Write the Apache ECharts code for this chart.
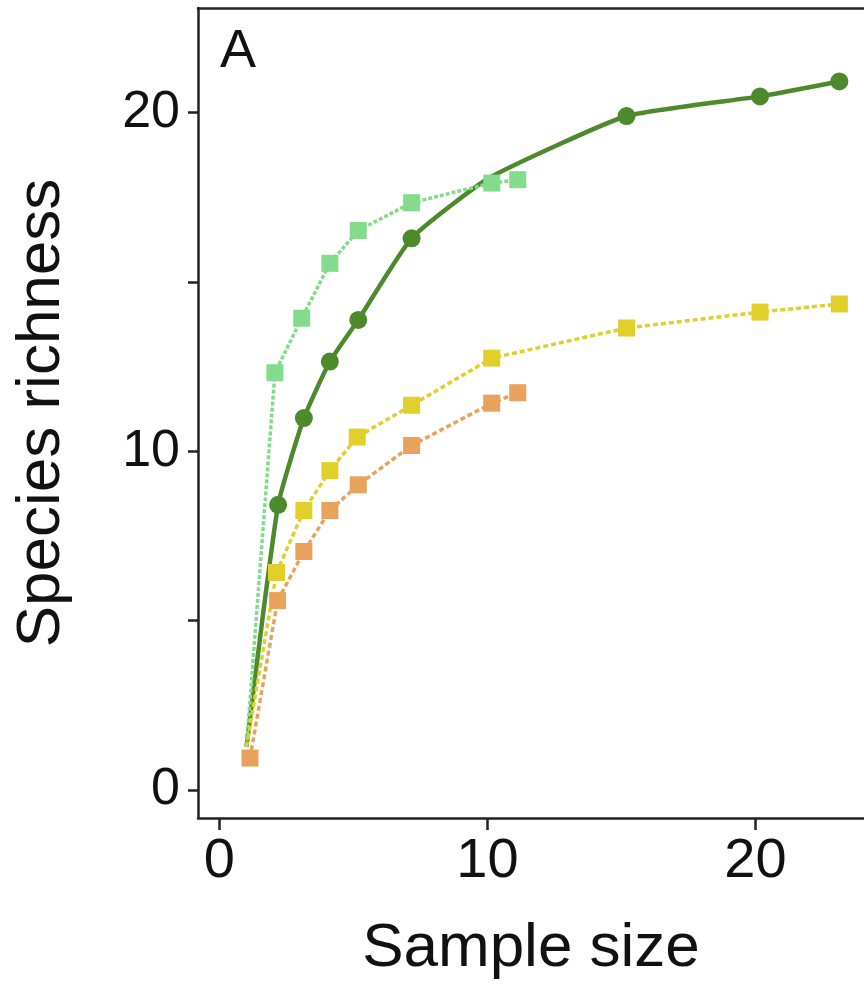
<!DOCTYPE html>
<html>
<head>
<meta charset="utf-8">
<script src="https://cdn.jsdelivr.net/npm/echarts@6.0.0/dist/echarts.min.js"></script>
<style>
	html, body { margin: 0; padding: 0; background: #fff; }
	#main { width: 864px; height: 986px; }
</style>
</head>
<body>
<div id="main"></div>
<script>
// 数据：从图上读取
var xDark = [1.01, 2.19, 3.15, 4.12, 5.18, 7.17, 10.06, 15.19, 20.17, 23.13];
var yDark = [1.28, 8.42, 10.98, 12.65, 13.88, 16.29, 18.07, 19.90, 20.48, 20.92];

var xLight = [1.01, 2.07, 3.07, 4.12, 5.18, 7.17, 10.16, 11.13];
var yLight = [1.28, 12.32, 13.93, 15.55, 16.52, 17.34, 17.92, 18.02];

var xYellow = [1.01, 2.13, 3.15, 4.12, 5.14, 7.17, 10.16, 15.19, 20.17, 23.13];
var yYellow = [1.28, 6.42, 8.25, 9.43, 10.42, 11.36, 12.75, 13.64, 14.11, 14.35];

var xOrange = [1.14, 2.17, 3.15, 4.12, 5.18, 7.17, 10.16, 11.13];
var yOrange = [0.94, 5.59, 7.04, 8.25, 9.01, 10.17, 11.42, 11.73];

var xTicks = [0, 10, 20];
var yTicks = [0, 5, 10, 15, 20];
var yLabels = [0, 10, 20];

// 组装 [x, y]，hidden 中的下标不画标记（被其它方块遮住）
function pairs(xs, ys, hidden) {
	var out = [];
	for (var i = 0; i < xs.length; i++) {
		if (hidden.indexOf(i) >= 0) {
			out.push({ value : [xs[i], ys[i]], symbol : 'none' });
		} else {
			out.push([xs[i], ys[i]]);
		}
	}
	return out;
}

var axisColor = '#222';
var font = 'Liberation Sans, Arial, Helvetica, sans-serif';

var myChart = echarts.init(document.getElementById('main'));

var option = {
	animation : false,
	backgroundColor : '#fff',
	grid : {
		left : 198,
		right : 0,
		top : 8,
		bottom : 168,
		containLabel : false,
		outerBoundsMode : 'none'
	},
	graphic : [ {
		type : 'text',
		left : 220,
		top : 25,
		style : {
			text : 'A',
			fontSize : 54,
			fontFamily : font,
			fill : '#111'
		}
	} ],
	xAxis : [ {
		type : 'value',
		position : 'bottom',
		min : -0.8,
		max : 24.05,
		splitLine : { show : false },
		axisLine : { show : true, onZero : false, lineStyle : { color : axisColor, width : 2.5 } },
		axisTick : {
			show : true,
			inside : false,
			length : 12,
			customValues : xTicks,
			lineStyle : { color : axisColor, width : 2.5 }
		},
		axisLabel : {
			customValues : xTicks,
			fontSize : 56,
			fontFamily : font,
			color : '#111',
			margin : 16
		},
		name : 'Sample size',
		nameLocation : 'middle',
		nameGap : 100,
		nameTextStyle : { fontSize : 62, fontFamily : font, color : '#111' }
	}, {
		type : 'value',
		position : 'top',
		min : -0.8,
		max : 24.05,
		splitLine : { show : false },
		axisLine : { show : true, onZero : false, lineStyle : { color : axisColor, width : 2.5 } },
		axisTick : { show : false },
		axisLabel : { show : false }
	} ],
	yAxis : {
		type : 'value',
		min : -0.83,
		max : 23.09,
		splitLine : { show : false },
		axisLine : { show : true, onZero : false, lineStyle : { color : axisColor, width : 2.5 } },
		axisTick : {
			show : true,
			inside : false,
			length : 10,
			customValues : yTicks,
			lineStyle : { color : axisColor, width : 2.5 }
		},
		axisLabel : {
			customValues : yLabels,
			fontSize : 52,
			fontFamily : font,
			color : '#111',
			margin : 18
		},
		name : 'Species richness',
		nameLocation : 'middle',
		nameGap : 125,
		nameTextStyle : { fontSize : 62, fontFamily : font, color : '#111' }
	},
	series : [ {
		name : 'dark',
		type : 'line',
		data : pairs(xDark, yDark, [0, 6]),
		symbol : 'circle',
		symbolSize : 18,
		smooth : 0.15,
		lineStyle : { color : '#4d8a2b', width : 4.5 },
		itemStyle : { color : '#4d8a2b' }
	}, {
		name : 'light',
		type : 'line',
		data : pairs(xLight, yLight, [0]),
		symbol : 'rect',
		symbolSize : 17,
		lineStyle : { color : '#83dc8c', width : 3.5, type : [ 4, 2 ] },
		itemStyle : { color : '#83dc8c' }
	}, {
		name : 'yellow',
		type : 'line',
		data : pairs(xYellow, yYellow, [0]),
		symbol : 'rect',
		symbolSize : 17,
		lineStyle : { color : '#e1cf2c', width : 3.5, type : [ 5, 3 ] },
		itemStyle : { color : '#e1cf2c' }
	}, {
		name : 'orange',
		type : 'line',
		data : pairs(xOrange, yOrange, []),
		symbol : 'rect',
		symbolSize : 17,
		lineStyle : { color : '#e9a25c', width : 3.5, type : [ 5, 3 ] },
		itemStyle : { color : '#e9a25c' }
	} ]
};
myChart.setOption(option);
</script>
</body>
</html>
